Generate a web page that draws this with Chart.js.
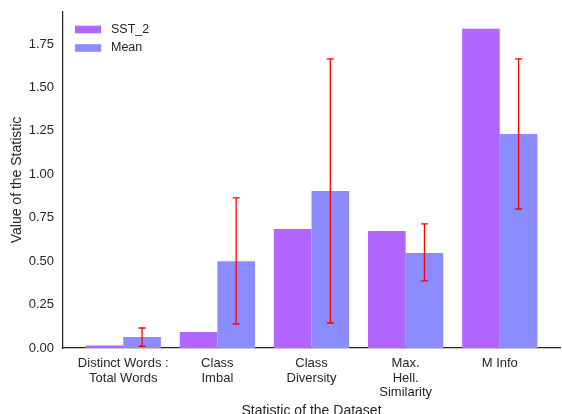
<!DOCTYPE html>
<html>
<head>
<meta charset="utf-8">
<script src="https://cdn.jsdelivr.net/npm/chart.js@4.4.0/dist/chart.umd.min.js"></script>
<style>
    html, body { margin: 0; padding: 0; background: #fff; overflow: hidden; }
    #wrap { width: 562px; height: 420px; }
</style>
</head>
<body>
<div id="wrap"><canvas id="chart"></canvas></div>
<script>
const categories = [
    ["Distinct Words :", "Total Words"],
    ["Class", "Imbal"],
    ["Class", "Diversity"],
    ["Max.", "Hell.", "Similarity"],
    ["M Info"]
];
const sstValues = [0.015, 0.092, 0.685, 0.674, 1.837];
const meanValues = [0.063, 0.50, 0.904, 0.547, 1.232];
const errLow = [0.01, 0.138, 0.144, 0.386, 0.80];
const errHigh = [0.115, 0.864, 1.664, 0.714, 1.664];
const yTicks = [0, 0.25, 0.5, 0.75, 1.0, 1.25, 1.5, 1.75];

const textColor = '#262626';
const font = "'Liberation Sans', Arial, sans-serif";

// red error bars on the Mean series
const errorBars = {
    id: 'errorBars',
    afterDatasetsDraw(chart) {
        const ctx = chart.ctx;
        const meta = chart.getDatasetMeta(1);
        const y = chart.scales.y;
        ctx.save();
        ctx.strokeStyle = '#ff0000';
        ctx.lineWidth = 1.3;
        meta.data.forEach((bar, i) => {
            const x = bar.x;
            const top = y.getPixelForValue(errHigh[i]);
            const bot = y.getPixelForValue(errLow[i]);
            ctx.beginPath();
            ctx.moveTo(x, top); ctx.lineTo(x, bot);
            ctx.moveTo(x - 3.5, top); ctx.lineTo(x + 3.5, top);
            ctx.moveTo(x - 3.5, bot); ctx.lineTo(x + 3.5, bot);
            ctx.stroke();
        });
        ctx.restore();
    }
};

// legend in the upper left corner of the plot, like matplotlib's
const cornerLegend = {
    id: 'cornerLegend',
    afterDraw(chart) {
        const ctx = chart.ctx;
        const area = chart.chartArea;
        ctx.save();
        ctx.font = '12.5px ' + font;
        ctx.textBaseline = 'middle';
        chart.data.datasets.forEach((ds, i) => {
            const cy = area.top + 17.5 + i * 18.5;
            ctx.fillStyle = ds.backgroundColor;
            ctx.fillRect(area.left + 12, cy - 3.8, 26, 7.6);
            ctx.fillStyle = textColor;
            ctx.fillText(ds.label, area.left + 48, cy);
        });
        ctx.restore();
    }
};

new Chart(document.getElementById('chart'), {
    type: 'bar',
    data: {
        datasets: [{
            label: 'SST_2',
            data: sstValues.map((v, i) => ({x: i, y: v})),
            backgroundColor: '#b066ff',
            borderWidth: 0
        }, {
            label: 'Mean',
            data: meanValues.map((v, i) => ({x: i, y: v})),
            backgroundColor: '#8a8cff',
            borderWidth: 0
        }]
    },
    options: {
        responsive: true,
        maintainAspectRatio: false,
        animation: false,
        categoryPercentage: 0.8,
        barPercentage: 1.0,
        layout: { padding: { top: 12, right: 2, left: 0, bottom: 0 } },
        scales: {
            x: {
                type: 'linear',
                offset: false,
                min: -0.64,
                max: 4.64,
                afterBuildTicks: (s) => { s.ticks = categories.map((c, i) => ({value: i})); },
                afterFit: (s) => { s.height = 72; },
                grid: { display: false, drawTicks: false },
                border: { display: true, color: textColor, width: 1.25 },
                ticks: {
                    autoSkip: false,
                    maxRotation: 0,
                    padding: 8,
                    color: textColor,
                    font: { family: font, size: 13, lineHeight: 1.13 },
                    callback: (v) => categories[v]
                },
                title: {
                    display: true,
                    text: 'Statistic of the Dataset',
                    color: textColor,
                    font: { family: font, size: 14 },
                    padding: { top: 4, bottom: 0 }
                }
            },
            y: {
                min: 0,
                max: 1.934,
                afterBuildTicks: (s) => { s.ticks = yTicks.map(v => ({value: v})); },
                afterFit: (s) => { s.width = 63; s.paddingTop = 0; s.paddingBottom = 0; },
                grid: { display: false, drawTicks: false },
                border: { display: true, color: textColor, width: 1.25 },
                ticks: {
                    padding: 9,
                    color: textColor,
                    font: { family: font, size: 13 },
                    callback: (v) => v.toFixed(2)
                },
                title: {
                    display: true,
                    text: 'Value of the Statistic',
                    color: textColor,
                    font: { family: font, size: 14 },
                    padding: { top: 9, bottom: 4 }
                }
            }
        },
        plugins: {
            legend: { display: false },
            tooltip: { enabled: false }
        }
    },
    plugins: [errorBars, cornerLegend]
});
</script>
</body>
</html>
